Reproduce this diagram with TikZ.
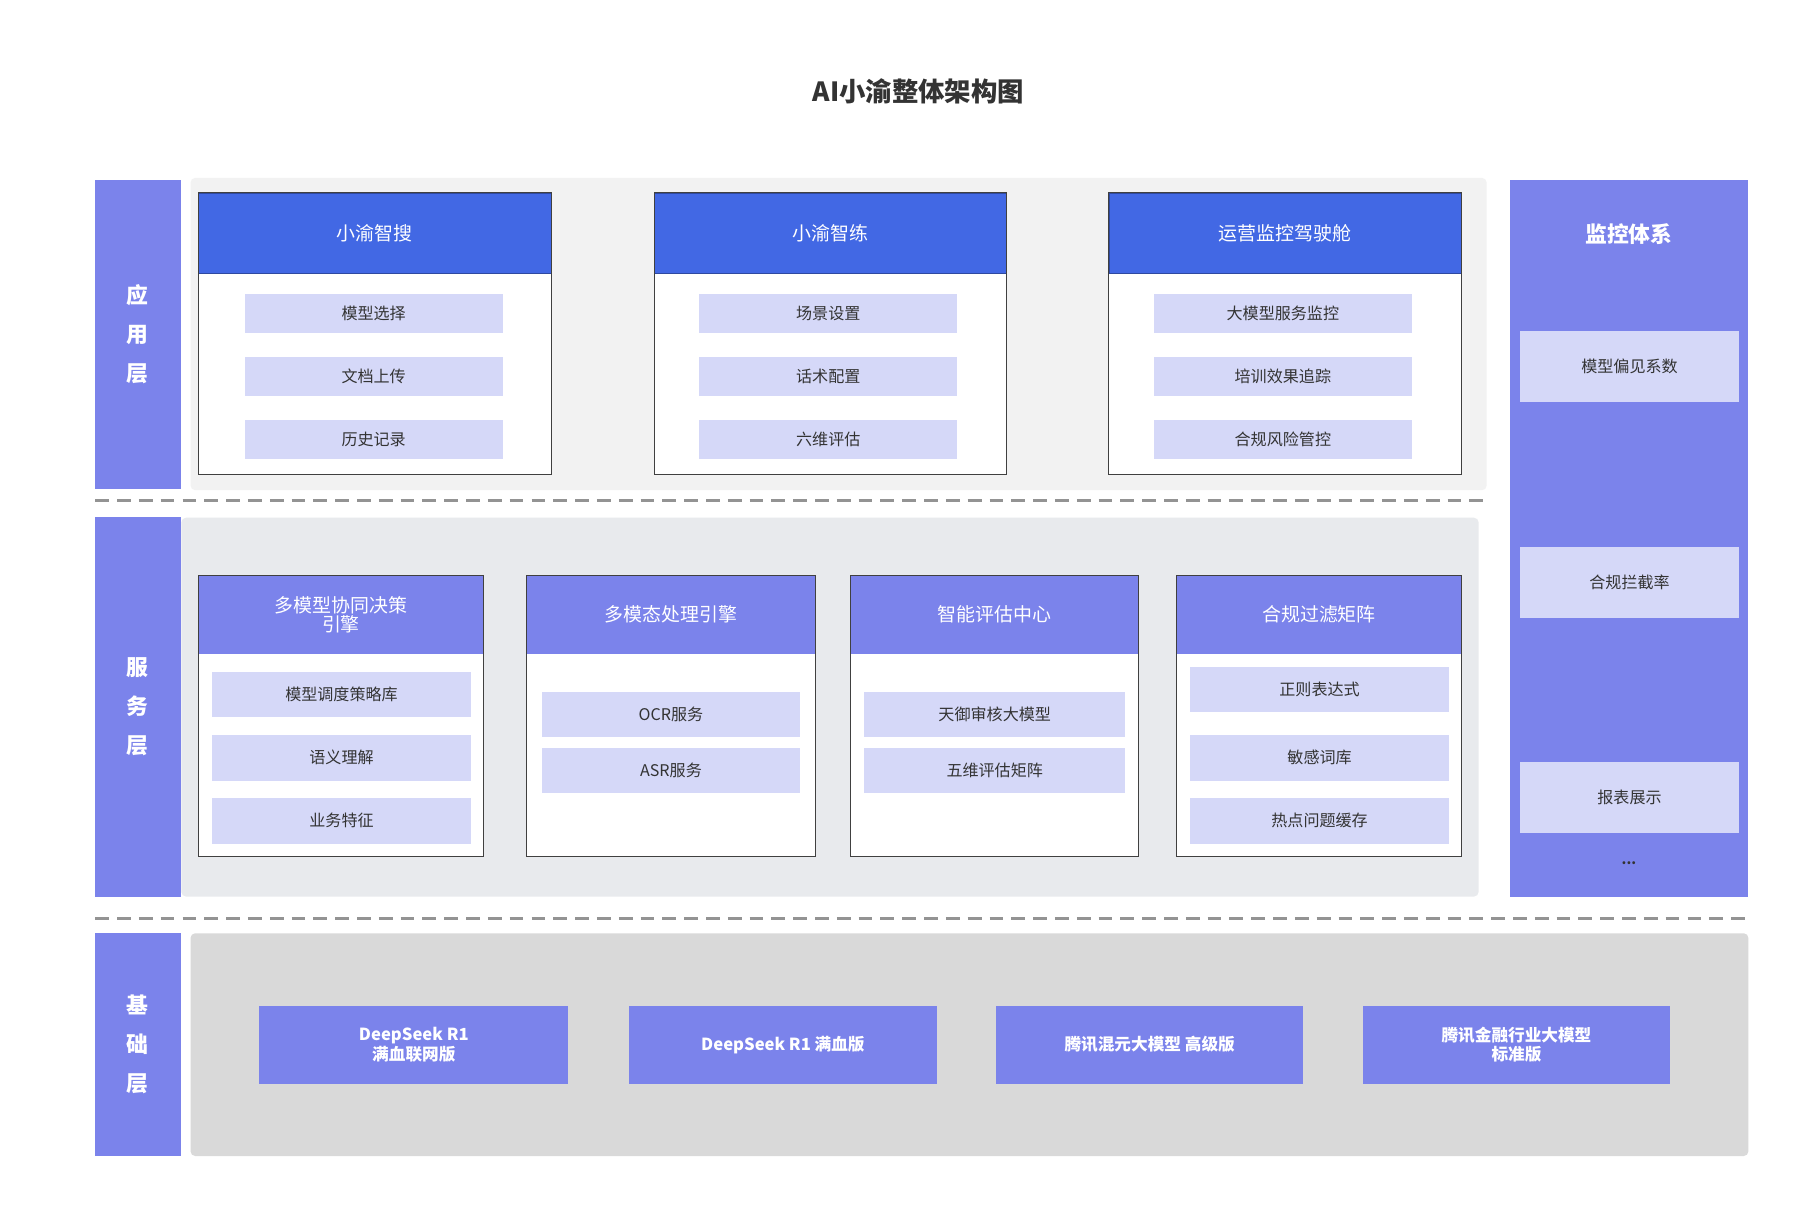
\documentclass[tikz,border=0pt]{standalone}
\usepackage{fontspec}
\setmainfont{Noto Sans CJK SC}
\begin{document}
\begin{tikzpicture}[x=1pt,y=-1pt,
 hdr/.style={fill=hb,draw=hb!70!black,line width=0.6pt},
 side/.style={fill=lb},
 item/.style={fill=it,inner sep=0pt},
 box/.style={draw=gray!50!black,line width=0.8pt},
 sepline/.style={draw=gray!85,line width=3pt,dash pattern=on 12pt off 7pt}]
\definecolor{hb}{RGB}{66,104,228}
\definecolor{lb}{RGB}{123,131,235}
\definecolor{it}{RGB}{213,216,248}
\definecolor{p1}{RGB}{242,242,242}
\definecolor{p2}{RGB}{232,234,237}
\definecolor{p3}{RGB}{217,217,217}
\definecolor{tx}{RGB}{51,51,51}
\useasboundingbox (0,0) rectangle (1568,1051);
\fill[white] (0,0) rectangle (1568,1051);
\node[font=\bfseries\fontsize{23}{28}\selectfont,text=tx] (title) at (800,80) {AI小渝整体架构图};
% panels
\fill[p1,rounded corners=4pt] (166,155) rectangle (1295,427);
\fill[p2,rounded corners=4pt] (158,451) rectangle (1288,781);
\fill[p3,rounded corners=4pt] (166,813) rectangle (1523,1007);
\draw[sepline] (83,436) -- (1295,436);
\draw[sepline] (83,800) -- (1523,800);
% side labels
\newcommand\sidelab[4]{\fill[side] (83,#1) rectangle (158,#2);
 \node[text=white,font=\bfseries\fontsize{19}{34}\selectfont,align=center] (#4) at (120,{(#1+#2)/2}) {#3};}
\sidelab{157}{426}{应\\用\\层}{sa}
\sidelab{450}{781}{服\\务\\层}{sb}
\sidelab{813}{1007}{基\\础\\层}{sc}
% monitor
\fill[lb] (1315,157) rectangle (1523,781);
\node[text=white,font=\bfseries\fontsize{19}{24}\selectfont] (mt) at (1419,204) {监控体系};
\newcommand\mon[4]{\node[fill=it,minimum width=191pt,minimum height=62pt,inner sep=0pt,font=\fontsize{14}{17}\selectfont,text=tx] (#4) at (1419.5,{(#1+#2)/2}) {#3};}
\mon{288}{350}{模型偏见系数}{m1}
\mon{477}{538}{合规拦截率}{m2}
\mon{664}{726}{报表展示}{m3}
\node[text=tx,font=\bfseries\fontsize{12}{14}\selectfont] (m4) at (1419,752) {...};
% generic module
\newcommand\module[7]{% x1 x2 y1 y2 hy title name
 \fill[white] (#1,#3) rectangle (#2,#4);
 \fill[hdr] (#1,#3) rectangle (#2,#5);
 \draw[box] (#1,#3) rectangle (#2,#4);
 \node[text=white,font=\fontsize{16.5}{19}\selectfont,align=center] (#7) at ({(#1+#2)/2},{(#3+#5)/2}) {#6};}
\newcommand\itm[6]{\node[item,minimum width={#2-#1},minimum height={#4-#3},font=\fontsize{14}{17}\selectfont,text=tx] (#6) at ({(#1+#2)/2},{(#3+#4)/2}) {#5};}
% app layer
\module{173}{480}{168}{413}{238}{小渝智搜}{a1}
\module{570}{877}{168}{413}{238}{小渝智练}{a2}
\module{966}{1273}{168}{413}{238}{运营监控驾驶舱}{a3}
\itm{213}{438}{256}{290}{模型选择}{a11}\itm{213}{438}{311}{345}{文档上传}{a12}\itm{213}{438}{366}{400}{历史记录}{a13}
\itm{609}{834}{256}{290}{场景设置}{a21}\itm{609}{834}{311}{345}{话术配置}{a22}\itm{609}{834}{366}{400}{六维评估}{a23}
\itm{1005}{1230}{256}{290}{大模型服务监控}{a31}\itm{1005}{1230}{311}{345}{培训效果追踪}{a32}\itm{1005}{1230}{366}{400}{合规风险管控}{a33}
% service layer
\begin{scope}[hdr/.style={fill=lb}]
\module{173}{421}{501}{746}{570}{多模型协同决策\\[-3pt]引擎}{b1}
\module{459}{710}{501}{746}{570}{多模态处理引擎}{b2}
\module{741}{992}{501}{746}{570}{智能评估中心}{b3}
\module{1025}{1273}{501}{746}{570}{合规过滤矩阵}{b4}
\end{scope}
\itm{185}{410}{585}{625}{模型调度策略库}{b11}\itm{185}{410}{640}{680}{语义理解}{b12}\itm{185}{410}{695}{735}{业务特征}{b13}
\itm{472}{697}{603}{642}{OCR服务}{b21}\itm{472}{697}{652}{691}{ASR服务}{b22}
\itm{753}{980}{603}{642}{天御审核大模型}{b31}\itm{753}{980}{652}{691}{五维评估矩阵}{b32}
\itm{1037}{1262}{581}{620}{正则表达式}{b41}\itm{1037}{1262}{640}{680}{敏感词库}{b42}\itm{1037}{1262}{695}{735}{热点问题缓存}{b43}
% base layer
\newcommand\base[4]{\node[fill=lb,minimum width={#2-#1},minimum height=68pt,inner sep=0pt,text=white,font=\bfseries\fontsize{14.5}{17}\selectfont,align=center] (#4) at ({(#1+#2)/2},910) {#3};}
\base{226}{495}{DeepSeek R1\\满血联网版}{c1}
\base{548}{816}{DeepSeek R1 满血版}{c2}
\base{868}{1135}{腾讯混元大模型 高级版}{c3}
\base{1187}{1455}{腾讯金融行业大模型\\标准版}{c4}
\end{tikzpicture}
\end{document}
